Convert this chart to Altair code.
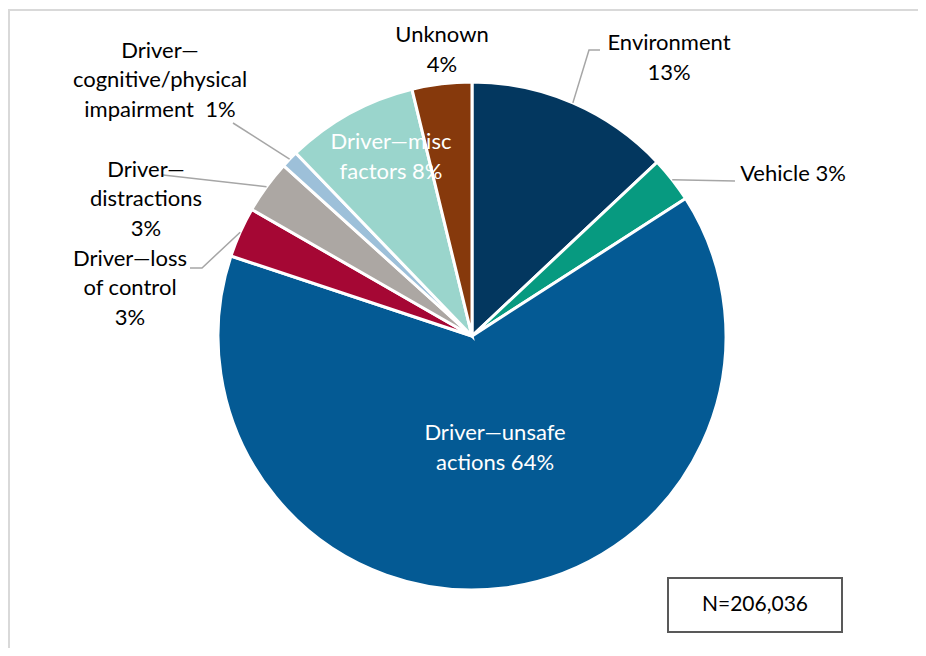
import altair as alt
import pandas as pd
import numpy as np

# ---------------- data ----------------
categories = [
    "Environment",
    "Vehicle",
    "Driver—unsafe actions",
    "Driver—loss of control",
    "Driver—distractions",
    "Driver—cognitive/physical impairment",
    "Driver—misc factors",
    "Unknown",
]
shares = [13.0, 2.9, 64.2, 3.2, 3.4, 1.1, 8.4, 3.8]
label_text = [
    "Environment\n13%",
    "Vehicle 3%",
    "Driver—unsafe\nactions 64%",
    "Driver—loss\nof control\n3%",
    "Driver—\ndistractions\n3%",
    "Driver—\ncognitive/physical\nimpairment\u00a0 1%",
    "Driver—misc\nfactors 8%",
    "Unknown\n4%",
]
colors = ["#03375F", "#079A80", "#045A94", "#A50734", "#ACA7A3", "#9DC0D9", "#9AD5CC", "#86390C"]
sample_note = "N=206,036"

# ---------------- layout (pixels) ----------------
W, H = 910, 640
CX, CY, R = 464, 328, 254
FONT = "Lato"
FS = 22
LH = 29.5
# label block centres
label_pos = {
    0: (661, 50), 1: (785, 166), 2: (487, 440), 3: (122, 280),
    4: (138, 191), 5: (152, 72), 6: (383, 149), 7: (434, 42),
}
inside = {2, 6}
# leader line extra points (after the point on the pie edge)
leader_pts = {
    0: [(581, 42), (592, 42)],
    1: [(727, 173)],
    3: [(194, 260), (182, 260)],
    4: [(155, 167)],
    5: [(225, 115)],
}

df = pd.DataFrame({"cat": categories, "share": shares, "idx": range(len(categories))})
cum = np.cumsum([0] + shares)
total = cum[-1]

lab_rows = []
for i, t in enumerate(label_text):
    x, y = label_pos[i]
    n = t.count("\n") + 1
    lab_rows.append({"x": x, "y": y - (n - 1) * LH / 2, "t": t,
                     "tc": "white" if i in inside else "#000000"})
lab_df = pd.DataFrame(lab_rows)

lead_rows = []
for i, pts in leader_pts.items():
    mid = (cum[i] + shares[i] / 2) / total * 2 * np.pi
    sx, sy = CX + R * np.sin(mid), CY - R * np.cos(mid)
    lead_rows.append({"id": i, "seq": 0, "x": sx, "y": sy})
    for k, (px, py) in enumerate(pts):
        lead_rows.append({"id": i, "seq": k + 1, "x": px, "y": py})
lead_df = pd.DataFrame(lead_rows)

xs = alt.Scale(domain=[0, W], nice=False, zero=False)
ys = alt.Scale(domain=[0, H], nice=False, zero=False, reverse=True)

pie = alt.Chart(df).mark_arc(radius=R, stroke="white", strokeWidth=3).encode(
    theta=alt.Theta("share:Q", stack=True),
    order=alt.Order("idx:Q"),
    color=alt.Color("cat:N", scale=alt.Scale(domain=categories, range=colors), legend=None),
    x=alt.value(CX),
    y=alt.value(CY),
)

leaders = alt.Chart(lead_df).mark_line(color="#A6A6A6", strokeWidth=1.5).encode(
    x=alt.X("x:Q", scale=xs, axis=None),
    y=alt.Y("y:Q", scale=ys, axis=None),
    detail="id:N",
    order=alt.Order("seq:Q"),
)

labels = alt.Chart(lab_df).mark_text(
    font=FONT, fontSize=FS, lineBreak="\n", lineHeight=LH, align="center", baseline="middle"
).encode(
    x=alt.X("x:Q", scale=xs, axis=None),
    y=alt.Y("y:Q", scale=ys, axis=None),
    text="t:N",
    color=alt.Color("tc:N", scale=None),
)

frame_top = alt.Chart(pd.DataFrame({"a": [0]})).mark_rule(color="#D9D9D9", strokeWidth=2).encode(
    x=alt.value(0), x2=alt.value(W), y=alt.value(2)
)
frame_left = alt.Chart(pd.DataFrame({"a": [0]})).mark_rule(color="#D9D9D9", strokeWidth=2).encode(
    x=alt.value(1), y=alt.value(2), y2=alt.value(H)
)

nbox = alt.Chart(pd.DataFrame({"a": [0]})).mark_rect(fill="white", stroke="#595959", strokeWidth=2).encode(
    x=alt.value(660), x2=alt.value(834), y=alt.value(570), y2=alt.value(624)
)
ntext = alt.Chart(pd.DataFrame({"t": [sample_note]})).mark_text(
    font=FONT, fontSize=21, align="center", baseline="middle", color="black"
).encode(x=alt.value(747), y=alt.value(597), text="t:N")

chart = alt.layer(frame_top, frame_left, pie, leaders, labels, nbox, ntext).properties(
    width=W, height=H, padding=0, autosize=alt.AutoSizeParams(type="none"), background="white"
).configure_view(stroke=None)

chart.save("out.html", embed_options={"renderer": "svg", "actions": False})
